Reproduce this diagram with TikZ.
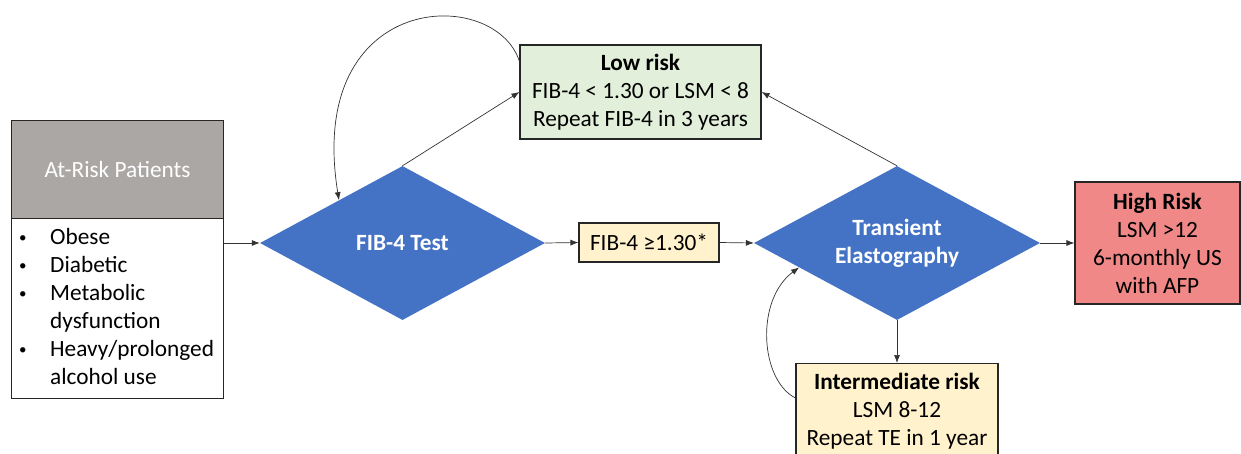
\documentclass[tikz,border=0pt]{standalone}
\usepackage{fontspec}
\setmainfont{Carlito}
\usetikzlibrary{shapes.geometric,arrows.meta,calc}
\definecolor{dblue}{RGB}{68,114,196}
\definecolor{hdrgray}{RGB}{171,167,165}
\definecolor{lowgreen}{RGB}{226,239,218}
\definecolor{midyellow}{RGB}{255,242,204}
\definecolor{highred}{RGB}{240,136,136}
\newcommand{\bul}{\raisebox{2.5pt}{\fontsize{15}{28}\selectfont\textbullet}}
\begin{document}
\begin{tikzpicture}[x=1pt,y=-1pt,
  font=\fontsize{23.3}{28}\selectfont,
  box/.style={rectangle, draw=black!85, line width=1.1pt, inner sep=0pt, align=center},
  decision/.style={diamond, aspect=1.85, fill=dblue, draw=none, inner sep=0pt, text=white,
    font=\fontsize{23.3}{28}\selectfont\bfseries, align=center},
  link/.style={draw=black!80, line width=0.7pt, -{Latex[length=8pt,width=6pt]}},
]
\clip (0,0) rectangle (1241,453);

% patient group box: header and list of risk factors
\node[box, fill=hdrgray, text=white, minimum width=212pt, minimum height=98pt,
  anchor=north west] (head) at (11,120) {At-Risk Patients};
\node[box, fill=white, minimum width=212pt, minimum height=180pt,
  anchor=north west] (body) at (11,218) {};
\node[anchor=west, inner sep=0pt, align=left] (list) at (19,309) {%
  \begin{tabular}{@{}p{31pt}@{}l@{}}
  \bul & Obese\\
  \bul & Diabetic\\
  \bul & Metabolic\\
       & dysfunction\\
  \bul & Heavy/prolonged\\
       & alcohol use
  \end{tabular}};

% decisions
\node[decision, minimum width=285pt, minimum height=154pt] (fib) at (402.5,243) {FIB-4 Test};
\node[decision, minimum width=286pt, minimum height=154pt] (te) at (897,243) {Transient\\Elastography};

% outcome boxes
\node[box, fill=lowgreen, minimum width=241pt, minimum height=94pt] (low) at (640.5,92)
  {\textbf{Low risk}\\FIB-4 < 1.30 or LSM < 8\\Repeat FIB-4 in 3 years};
\node[box, fill=midyellow, minimum width=140pt, minimum height=39pt] (fibhi) at (649,242.5)
  {FIB-4 ≥1.30*};
\node[box, fill=highred, minimum width=165pt, minimum height=122pt] (high) at (1157.5,243)
  {\textbf{High Risk}\\LSM >12\\6-monthly US\\with AFP};
\node[box, fill=midyellow, minimum width=202pt, minimum height=96pt, anchor=north] (inter) at (897,363)
  {\textbf{Intermediate risk}\\LSM 8-12\\Repeat TE in 1 year};

% connectors
\draw[link] (body.east |- fib.west) -- (fib.west);
\draw[link] (fib.east) -- (fibhi.west);
\draw[link] (fibhi.east) -- (te.west);
\draw[link] (te.east) -- (high.west);
\draw[link] (te.south) -- (inter.north);
\draw[link] (fib.north) -- (low.west);
\draw[link] (te.north) -- (low.east);
\draw[link] ($(low.north west)+(0,17)$) .. controls (495,-15) and (305,-10) .. (fib.146);
\draw[link] ($(inter.north west)+(0,35)$) .. controls (760,380) and (755,300) .. (te.194);
\end{tikzpicture}
\end{document}
